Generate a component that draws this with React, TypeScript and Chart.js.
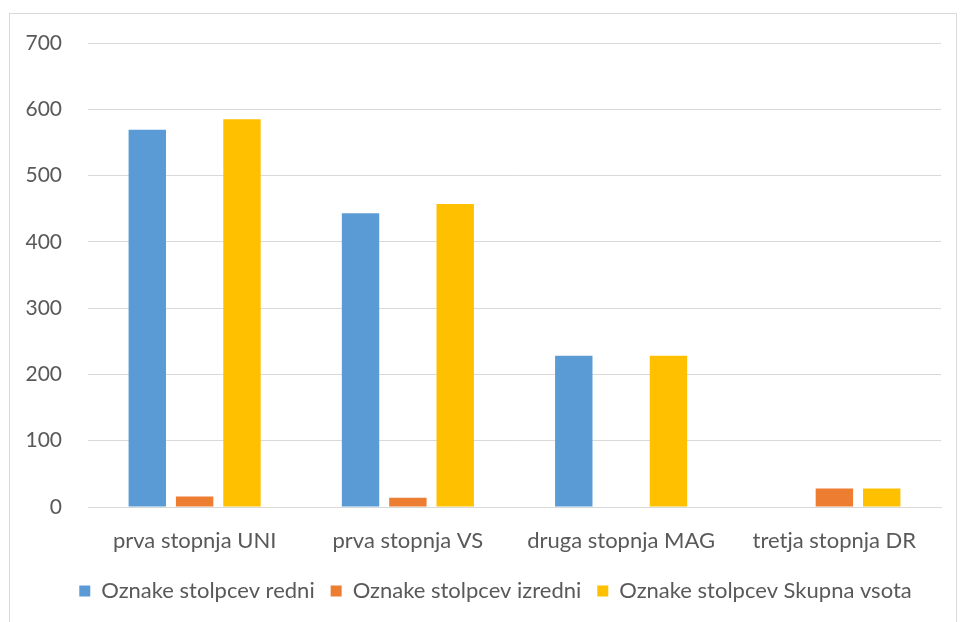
import React, { useEffect, useRef } from "react";
import { Chart, registerables } from "chart.js";

Chart.register(...registerables);

const categories = ["prva stopnja UNI", "prva stopnja VS", "druga stopnja MAG", "tretja stopnja DR"];
const redni = [569, 443, 228, null];
const izredni = [16, 14, null, 28];
const skupna = [585, 457, 228, 28];
const seriesNames = ["Oznake stolpcev redni", "Oznake stolpcev izredni", "Oznake stolpcev Skupna vsota"];
const yMin = 0;
const yMax = 700;
const yStep = 100;

const FONT = "Lato, 'Liberation Sans', sans-serif";
const TEXT = "#595959";

const legendShift = {
  id: "legendShift",
  afterLayout(chart: any) {
    const l = chart.legend;
    if (l) {
      l.left += 25;
      l.right += 25;
    }
  },
};

export default function App() {
  const ref = useRef<HTMLCanvasElement | null>(null);
  useEffect(() => {
    document.body.style.margin = "0";
    const ctx = ref.current!;
    const chart = new Chart(ctx, {
      type: "bar",
      data: {
        labels: categories,
        datasets: [
          { label: seriesNames[0], data: redni, backgroundColor: "#5B9BD5", borderColor: "#5B9BD5" },
          { label: seriesNames[1], data: izredni, backgroundColor: "#ED7D31", borderColor: "#ED7D31" },
          { label: seriesNames[2], data: skupna, backgroundColor: "#FFC000", borderColor: "#FFC000" },
        ],
      },
      options: {
        animation: false,
        responsive: false,
        maintainAspectRatio: false,
        datasets: { bar: { categoryPercentage: 0.666, barPercentage: 0.79 } },
        layout: { padding: { left: 0, right: 19, top: 43, bottom: 10 } },
        plugins: {
          tooltip: { enabled: false },
          legend: {
            position: "bottom",
            labels: {
              boxWidth: 11,
              boxHeight: 11,
              padding: 16,
              color: TEXT,
              font: { family: FONT, size: 22 },
            },
          },
        },
        scales: {
          x: {
            afterFit: (s: any) => { s.height = 57; },
            grid: { display: false, drawTicks: false },
            border: { display: true, color: "#D9D9D9", width: 1 },
            ticks: { color: TEXT, font: { family: FONT, size: 22 }, padding: 21, maxRotation: 0 },
          },
          y: {
            min: yMin,
            max: yMax,
            afterFit: (s: any) => { s.width = 88; },
            grid: { color: "#D9D9D9", drawTicks: false, lineWidth: 1 },
            border: { display: false },
            ticks: { stepSize: yStep, color: TEXT, font: { family: FONT, size: 21 }, padding: 26 },
          },
        },
      },
      plugins: [legendShift],
    });
    return () => chart.destroy();
  }, []);
  return (
    <div style={{ position: "relative", width: 960, height: 622, background: "#fff", overflow: "hidden" }}>
      <div style={{ position: "absolute", left: 9, top: 13, width: 948, height: 620, border: "1px solid #D9D9D9", boxSizing: "border-box" }} />
      <canvas ref={ref} width={960} height={622} style={{ position: "absolute", left: 0, top: 0 }} />
    </div>
  );
}
